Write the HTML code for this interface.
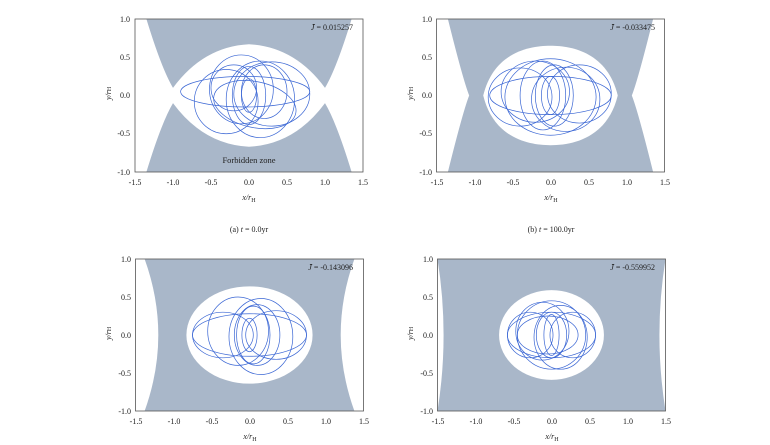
<!DOCTYPE html>
<html><head><meta charset="utf-8"><style>
html,body{margin:0;padding:0;background:#fff;}
svg{display:block;font-family:"Liberation Serif",serif;}
</style></head><body>
<svg width="770" height="445" viewBox="0 0 770 445" xmlns="http://www.w3.org/2000/svg">
<defs>
<clipPath id="cp"><rect x="-1.5" y="-1" width="3" height="2"/></clipPath>
</defs>

<!-- Panel a -->
<g transform="translate(249,95.5) scale(76,-76.5)">
 <g clip-path="url(#cp)">
  <path d="M -1.35 1 Q -1.15 0.35 -1 0.1 Q -0.6 0.64 0 0.67 Q 0.6 0.64 1 0.1 Q 1.15 0.35 1.35 1 Z" fill="#a9b7c9"/>
  <path d="M -1.35 -1 Q -1.15 -0.35 -1 -0.1 Q -0.6 -0.64 0 -0.67 Q 0.6 -0.64 1 -0.1 Q 1.15 -0.35 1.35 -1 Z" fill="#a9b7c9"/>
  <g fill="none" stroke="#3a66d4" stroke-width="0.7">
   <ellipse cx="0" cy="0" rx="0.1" ry="0.22" vector-effect="non-scaling-stroke"/>
   <ellipse cx="0" cy="0" rx="0.22" ry="0.38" vector-effect="non-scaling-stroke"/>
   <ellipse cx="-0.1" cy="0.08" rx="0.42" ry="0.45" vector-effect="non-scaling-stroke"/>
   <ellipse cx="0.15" cy="-0.05" rx="0.45" ry="0.5" vector-effect="non-scaling-stroke"/>
   <ellipse cx="-0.3" cy="-0.08" rx="0.42" ry="0.42" vector-effect="non-scaling-stroke"/>
   <ellipse cx="0.3" cy="0.02" rx="0.5" ry="0.42" vector-effect="non-scaling-stroke"/>
   <ellipse cx="-0.05" cy="0.05" rx="0.85" ry="0.2" vector-effect="non-scaling-stroke"/>
   <ellipse cx="0.1" cy="-0.1" rx="0.55" ry="0.3" transform="rotate(-12)" vector-effect="non-scaling-stroke"/>
   <ellipse cx="-0.2" cy="0.1" rx="0.3" ry="0.3" vector-effect="non-scaling-stroke"/>
   <ellipse cx="0.2" cy="0.05" rx="0.3" ry="0.35" vector-effect="non-scaling-stroke"/>
  </g>
 </g>
</g>
<!-- Panel b -->
<g transform="translate(550.5,95.5) scale(76,-76.5)">
 <g clip-path="url(#cp)">
  <rect x="-1.5" y="-1" width="3" height="2" fill="#a9b7c9"/>
  <path d="M -1.5 1 L -1.35 1 Q -1.15 0.2 -1.07 0 Q -1.15 -0.2 -1.35 -1 L -1.5 -1 Z" fill="#fff"/>
  <path d="M 1.5 1 L 1.35 1 Q 1.15 0.2 1.07 0 Q 1.15 -0.2 1.35 -1 L 1.5 -1 Z" fill="#fff"/>
  <path d="M -0.885 0 C -0.75 0.55 -0.3 0.65 0 0.65 C 0.3 0.65 0.75 0.55 0.885 0 C 0.75 -0.55 0.3 -0.65 0 -0.65 C -0.3 -0.65 -0.75 -0.55 -0.885 0 Z" fill="#fff"/>
  <g fill="none" stroke="#3a66d4" stroke-width="0.7">
   <ellipse cx="0" cy="0" rx="0.12" ry="0.25" vector-effect="non-scaling-stroke"/>
   <ellipse cx="0.05" cy="0" rx="0.25" ry="0.4" vector-effect="non-scaling-stroke"/>
   <ellipse cx="-0.4" cy="-0.02" rx="0.42" ry="0.38" vector-effect="non-scaling-stroke"/>
   <ellipse cx="-0.2" cy="0.05" rx="0.45" ry="0.4" vector-effect="non-scaling-stroke"/>
   <ellipse cx="0.2" cy="-0.05" rx="0.45" ry="0.42" vector-effect="non-scaling-stroke"/>
   <ellipse cx="0.38" cy="0.02" rx="0.42" ry="0.38" vector-effect="non-scaling-stroke"/>
   <ellipse cx="0" cy="0" rx="0.8" ry="0.25" vector-effect="non-scaling-stroke"/>
   <ellipse cx="0" cy="-0.02" rx="0.6" ry="0.5" vector-effect="non-scaling-stroke"/>
   <ellipse cx="-0.1" cy="0" rx="0.3" ry="0.45" vector-effect="non-scaling-stroke"/>
  </g>
 </g>
</g>
<!-- Panel c -->
<g transform="translate(249.5,335) scale(76,-76)">
 <g clip-path="url(#cp)">
  <rect x="-1.5" y="-1" width="3" height="2" fill="#a9b7c9"/>
  <path d="M -1.5 1 L -1.38 1 Q -1.02 0 -1.38 -1 L -1.5 -1 Z" fill="#fff"/>
  <path d="M 1.5 1 L 1.38 1 Q 1.02 0 1.38 -1 L 1.5 -1 Z" fill="#fff"/>
  <ellipse cx="0" cy="0" rx="0.83" ry="0.64" fill="#fff"/>
  <g fill="none" stroke="#3a66d4" stroke-width="0.7">
   <ellipse cx="0" cy="0" rx="0.1" ry="0.22" vector-effect="non-scaling-stroke"/>
   <ellipse cx="0.05" cy="0" rx="0.22" ry="0.38" vector-effect="non-scaling-stroke"/>
   <ellipse cx="-0.35" cy="0" rx="0.4" ry="0.3" vector-effect="non-scaling-stroke"/>
   <ellipse cx="-0.15" cy="0.05" rx="0.4" ry="0.45" vector-effect="non-scaling-stroke"/>
   <ellipse cx="0.15" cy="-0.02" rx="0.42" ry="0.5" vector-effect="non-scaling-stroke"/>
   <ellipse cx="0.35" cy="0" rx="0.4" ry="0.32" vector-effect="non-scaling-stroke"/>
   <ellipse cx="0" cy="0" rx="0.75" ry="0.28" vector-effect="non-scaling-stroke"/>
   <ellipse cx="0.1" cy="0" rx="0.3" ry="0.4" vector-effect="non-scaling-stroke"/>
  </g>
 </g>
</g>
<!-- Panel d -->
<g transform="translate(551.5,335) scale(76,-76)">
 <g clip-path="url(#cp)">
  <rect x="-1.5" y="-1" width="3" height="2" fill="#a9b7c9"/>
  <path d="M -1.52 1 L -1.5 1 Q -1.34 0 -1.5 -1 L -1.52 -1 Z" fill="#fff"/>
  <path d="M 1.52 1 L 1.5 1 Q 1.34 0 1.5 -1 L 1.52 -1 Z" fill="#fff"/>
  <ellipse cx="0" cy="0" rx="0.69" ry="0.59" fill="#fff"/>
  <g fill="none" stroke="#3a66d4" stroke-width="0.7">
   <ellipse cx="0" cy="0" rx="0.1" ry="0.27" vector-effect="non-scaling-stroke"/>
   <ellipse cx="0" cy="0" rx="0.2" ry="0.3" vector-effect="non-scaling-stroke"/>
   <ellipse cx="-0.28" cy="0" rx="0.3" ry="0.3" vector-effect="non-scaling-stroke"/>
   <ellipse cx="-0.12" cy="0.05" rx="0.35" ry="0.38" vector-effect="non-scaling-stroke"/>
   <ellipse cx="0.12" cy="-0.03" rx="0.35" ry="0.42" vector-effect="non-scaling-stroke"/>
   <ellipse cx="0.28" cy="0" rx="0.3" ry="0.3" vector-effect="non-scaling-stroke"/>
   <ellipse cx="0" cy="0" rx="0.58" ry="0.3" vector-effect="non-scaling-stroke"/>
   <ellipse cx="0" cy="0" rx="0.45" ry="0.45" vector-effect="non-scaling-stroke"/>
   <ellipse cx="-0.05" cy="0" rx="0.4" ry="0.25" vector-effect="non-scaling-stroke"/>
  </g>
 </g>
</g>

<!-- frames -->
<g fill="none" stroke="#555" stroke-width="0.8">
 <rect x="135" y="19" width="228" height="153"/>
 <rect x="436.5" y="19" width="228" height="153"/>
 <rect x="135.5" y="259" width="228" height="152"/>
 <rect x="437.5" y="259" width="228" height="152"/>
</g>
<g font-size="8" fill="#222" text-anchor="end">
 <text x="130" y="22">1.0</text><text x="130" y="60">0.5</text><text x="130" y="98">0.0</text><text x="130" y="136">-0.5</text><text x="130" y="175">-1.0</text>
 <text x="432" y="22">1.0</text><text x="432" y="60">0.5</text><text x="432" y="98">0.0</text><text x="432" y="136">-0.5</text><text x="432" y="175">-1.0</text>
 <text x="131" y="262">1.0</text><text x="131" y="300">0.5</text><text x="131" y="338">0.0</text><text x="131" y="376">-0.5</text><text x="131" y="414">-1.0</text>
 <text x="433" y="262">1.0</text><text x="433" y="300">0.5</text><text x="433" y="338">0.0</text><text x="433" y="376">-0.5</text><text x="433" y="414">-1.0</text>
</g>
<g font-size="8" fill="#222" text-anchor="middle">
 <text x="135" y="185">-1.5</text><text x="173" y="185">-1.0</text><text x="211" y="185">-0.5</text><text x="249" y="185">0.0</text><text x="287" y="185">0.5</text><text x="325" y="185">1.0</text><text x="363" y="185">1.5</text>
 <text x="437" y="185">-1.5</text><text x="475" y="185">-1.0</text><text x="513" y="185">-0.5</text><text x="551" y="185">0.0</text><text x="589" y="185">0.5</text><text x="627" y="185">1.0</text><text x="665" y="185">1.5</text>
 <text x="136" y="424">-1.5</text><text x="174" y="424">-1.0</text><text x="212" y="424">-0.5</text><text x="250" y="424">0.0</text><text x="288" y="424">0.5</text><text x="326" y="424">1.0</text><text x="364" y="424">1.5</text>
 <text x="438" y="424">-1.5</text><text x="476" y="424">-1.0</text><text x="514" y="424">-0.5</text><text x="552" y="424">0.0</text><text x="590" y="424">0.5</text><text x="628" y="424">1.0</text><text x="666" y="424">1.5</text>
 <text x="249" y="200" font-style="italic">x/r<tspan font-size="6" font-style="normal" dy="2">H</tspan></text>
 <text x="551" y="200" font-style="italic">x/r<tspan font-size="6" font-style="normal" dy="2">H</tspan></text>
 <text x="250" y="439" font-style="italic">x/r<tspan font-size="6" font-style="normal" dy="2">H</tspan></text>
 <text x="552" y="439" font-style="italic">x/r<tspan font-size="6" font-style="normal" dy="2">H</tspan></text>
 <text x="249" y="232">(a) <tspan font-style="italic">t</tspan> = 0.0yr</text>
 <text x="551" y="232">(b) <tspan font-style="italic">t</tspan> = 100.0yr</text>
 <text x="249" y="163" font-size="8.5">Forbidden zone</text>
</g>
<g font-size="8" fill="#222" font-style="italic">
 <text transform="translate(111,100) rotate(-90)">y/r<tspan font-size="6" font-style="normal">H</tspan></text>
 <text transform="translate(413,100) rotate(-90)">y/r<tspan font-size="6" font-style="normal">H</tspan></text>
 <text transform="translate(111,340) rotate(-90)">y/r<tspan font-size="6" font-style="normal">H</tspan></text>
 <text transform="translate(413,340) rotate(-90)">y/r<tspan font-size="6" font-style="normal">H</tspan></text>
</g>
<g font-size="8" fill="#222" text-anchor="end">
 <text x="353" y="30"><tspan font-style="italic">J̄</tspan> = 0.015257</text>
 <text x="655" y="30"><tspan font-style="italic">J̄</tspan> = -0.033475</text>
 <text x="353" y="270"><tspan font-style="italic">J̄</tspan> = -0.143096</text>
 <text x="655" y="270"><tspan font-style="italic">J̄</tspan> = -0.559952</text>
</g>
</svg>
</body></html>
